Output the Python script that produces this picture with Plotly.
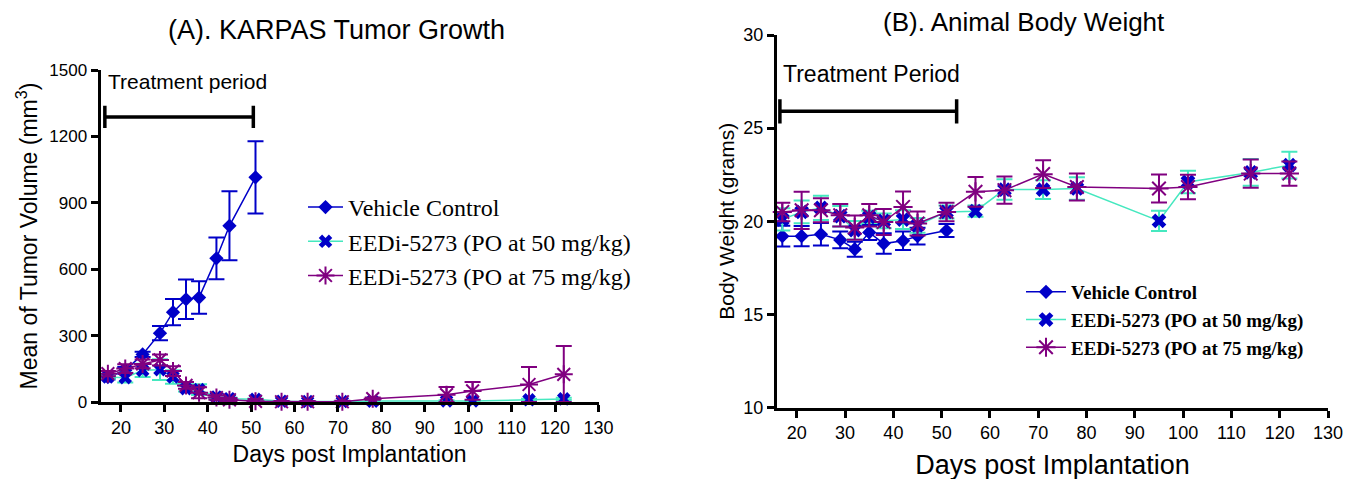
import plotly.graph_objects as go

# ---------------- data: (A) tumour volume ----------------
days_vc = [17, 21, 25, 29, 32, 35, 38, 42, 45, 51]
vol_vc = [113, 143, 215, 311, 406, 464, 472, 649, 796, 1015]
vol_vc_err = [10, 15, 12, 32, 59, 89, 73, 94, 156, 163]

days_trt = [17, 21, 25, 29, 32, 35, 38, 42, 45, 51, 57, 63, 71, 78, 95, 101, 114, 122]
vol_50 = [113, 110, 143, 146, 113, 60, 56, 23, 15, 12, 3, 2, 2, 4, 5, 5, 10, 14]
vol_50_err = [10, 22, 30, 47, 30, 12, 24, 8, 5, 4, 2, 2, 2, 2, 3, 3, 5, 5]
vol_75 = [128, 151, 172, 190, 140, 75, 42, 20, 10, 3, 1, 1, 1, 15, 33, 50, 79, 125]
vol_75_err = [12, 20, 20, 25, 22, 15, 25, 10, 8, 10, 3, 3, 5, 5, 35, 40, 79, 128]

# ---------------- data: (B) body weight ----------------
days_bw_vc = [17, 21, 25, 29, 32, 35, 38, 42, 45, 51]
bw_vc = [19.2, 19.2, 19.3, 19.0, 18.5, 19.4, 18.8, 18.95, 19.2, 19.5]
bw_vc_err = [0.56, 0.54, 0.6, 0.45, 0.4, 0.4, 0.55, 0.5, 0.45, 0.35]

days_bw = [17, 21, 25, 29, 32, 35, 38, 42, 45, 51, 57, 63, 71, 78, 95, 101, 114, 122]
bw_50 = [20.1, 20.5, 20.72, 20.27, 19.52, 20.23, 20.02, 20.09, 19.78, 20.5, 20.54, 21.7,
         21.7, 21.76, 20.02, 22.11, 22.62, 23.01]
bw_50_err = [0.6, 0.61, 0.65, 0.55, 0.5, 0.33, 0.4, 0.5, 0.4, 0.35, 0.3, 0.55,
             0.5, 0.6, 0.55, 0.6, 0.72, 0.72]
bw_75 = [20.5, 20.59, 20.59, 20.32, 19.66, 20.32, 19.96, 20.77, 19.88, 20.5, 21.58, 21.67,
         22.53, 21.84, 21.76, 21.84, 22.56, 22.56]
bw_75_err = [0.5, 1.0, 0.65, 0.6, 0.65, 0.6, 0.7, 0.83, 0.65, 0.5, 0.8, 0.73,
             0.75, 0.72, 0.75, 0.66, 0.76, 0.65]

names = ["Vehicle Control", "EEDi-5273 (PO at 50 mg/kg)", "EEDi-5273 (PO at 75 mg/kg)"]

# treatment period brackets
treatA = dict(x0=16.3, x1=50.5, y=1288, cap=50)
treatB = dict(x0=16.5, x1=53.1, y=25.9, cap=0.65)

BLUE = "#0000C8"
AQUA = "#45E8BF"
PURP = "#800080"

fig = go.Figure()

def lower(vals, errs):
    return [min(v, e) for v, e in zip(vals, errs)]

# ---- (A) ----
fig.add_trace(go.Scatter(
    x=days_vc, y=vol_vc, name=names[0], mode="lines+markers",
    line=dict(color=BLUE, width=1.5),
    marker=dict(symbol="diamond", size=11, color=BLUE),
    error_y=dict(type="data", array=vol_vc_err, color=BLUE, thickness=2, width=8),
    xaxis="x", yaxis="y", legend="legend", cliponaxis=False))
fig.add_trace(go.Scatter(
    x=days_trt, y=vol_50, name=names[1], mode="lines+markers",
    line=dict(color=AQUA, width=1.5),
    marker=dict(symbol="x", size=12, color=BLUE),
    error_y=dict(type="data", array=vol_50_err, arrayminus=lower(vol_50, vol_50_err),
                 color=AQUA, thickness=2, width=8),
    xaxis="x", yaxis="y", legend="legend", cliponaxis=False))
fig.add_trace(go.Scatter(
    x=days_trt, y=vol_75, name=names[2], mode="lines+markers",
    line=dict(color=PURP, width=1.5),
    marker=dict(symbol="asterisk-open", size=15, color=PURP, line=dict(color=PURP, width=2)),
    error_y=dict(type="data", array=vol_75_err, arrayminus=lower(vol_75, vol_75_err),
                 color=PURP, thickness=2, width=8),
    xaxis="x", yaxis="y", legend="legend", cliponaxis=False))

# ---- (B) ----
fig.add_trace(go.Scatter(
    x=days_bw_vc, y=bw_vc, name=names[0], mode="lines+markers",
    line=dict(color=BLUE, width=1.5),
    marker=dict(symbol="diamond", size=11, color=BLUE),
    error_y=dict(type="data", array=bw_vc_err, color=BLUE, thickness=2, width=8),
    xaxis="x2", yaxis="y2", legend="legend2", cliponaxis=False))
fig.add_trace(go.Scatter(
    x=days_bw, y=bw_50, name=names[1], mode="lines+markers",
    line=dict(color=AQUA, width=1.5),
    marker=dict(symbol="x", size=13, color=BLUE),
    error_y=dict(type="data", array=bw_50_err, color=AQUA, thickness=2, width=8),
    xaxis="x2", yaxis="y2", legend="legend2", cliponaxis=False))
fig.add_trace(go.Scatter(
    x=days_bw, y=bw_75, name=names[2], mode="lines+markers",
    line=dict(color=PURP, width=1.5),
    marker=dict(symbol="asterisk-open", size=16, color=PURP, line=dict(color=PURP, width=2)),
    error_y=dict(type="data", array=bw_75_err, color=PURP, thickness=2, width=8),
    xaxis="x2", yaxis="y2", legend="legend2", cliponaxis=False))

# treatment brackets
shapes = []
for t, xr, yr in [(treatA, "x", "y"), (treatB, "x2", "y2")]:
    ln = dict(color="black", width=3.5)
    shapes.append(dict(type="line", xref=xr, yref=yr, x0=t["x0"], x1=t["x1"], y0=t["y"], y1=t["y"], line=ln))
    for xx in (t["x0"], t["x1"]):
        shapes.append(dict(type="line", xref=xr, yref=yr, x0=xx, x1=xx,
                           y0=t["y"] - t["cap"], y1=t["y"] + t["cap"], line=ln))

W, H = 1353, 479
OFF = 8  # page body margin offset
def px(x):
    return (x - OFF) / W
def py(y):
    return 1 - (y - OFF) / H

axis_common = dict(showline=True, linecolor="black", linewidth=3, ticks="outside",
                   ticklen=7, tickwidth=3, tickcolor="black", showgrid=False, zeroline=False,
                   mirror=False, automargin=False)

fig.update_layout(
    width=W, height=H, margin=dict(l=0, r=0, t=0, b=0, autoexpand=False),
    paper_bgcolor="white", plot_bgcolor="white",
    font=dict(family="Liberation Sans, Arial, sans-serif", color="black"),
    shapes=shapes,
    xaxis=dict(domain=[px(100.5), px(598.5)], range=[15.3, 130], tickvals=list(range(20, 131, 10)),
               anchor="y", tickfont=dict(size=18),
               title=dict(text="Days post Implantation", font=dict(size=23), standoff=10),
               **axis_common),
    yaxis=dict(domain=[py(402), py(70)], range=[0, 1500], tickvals=list(range(0, 1501, 300)),
               anchor="x", tickfont=dict(size=17),
               title=dict(text="Mean of Tumor Volume (mm<sup>3</sup>)", font=dict(size=23), standoff=6),
               **axis_common),
    xaxis2=dict(domain=[px(777), px(1328)], range=[15.9, 130], tickvals=list(range(20, 131, 10)),
                anchor="y2", tickfont=dict(size=18),
                title=dict(text="Days post Implantation", font=dict(size=27), standoff=14),
                **axis_common),
    yaxis2=dict(domain=[py(407.5), py(35)], range=[10, 30], tickvals=list(range(10, 31, 5)),
                anchor="x2", tickfont=dict(size=18),
                title=dict(text="Body Weight (grams)", font=dict(size=21), standoff=4),
                **axis_common),
    legend=dict(x=px(303), y=py(185), xanchor="left", yanchor="top", bgcolor="rgba(0,0,0,0)",
                font=dict(family="Liberation Serif, Times New Roman, serif", size=24),
                tracegroupgap=0, itemwidth=35),
    legend2=dict(x=px(1021), y=py(273), xanchor="left", yanchor="top", bgcolor="rgba(0,0,0,0)",
                 font=dict(family="Liberation Serif, Times New Roman, serif", size=19, weight="bold"),
                 tracegroupgap=0, itemwidth=40),
    annotations=[
        dict(text="(A). KARPAS Tumor Growth", x=px(336), y=py(30), xref="paper", yref="paper",
             showarrow=False, font=dict(size=27), xanchor="center", yanchor="middle"),
        dict(text="(B). Animal Body Weight", x=px(1024), y=py(22), xref="paper", yref="paper",
             showarrow=False, font=dict(size=26), xanchor="center", yanchor="middle"),
        dict(text="Treatment period", x=px(188), y=py(81), xref="paper", yref="paper",
             showarrow=False, font=dict(size=21), xanchor="center", yanchor="middle"),
        dict(text="Treatment Period", x=px(871), y=py(74), xref="paper", yref="paper",
             showarrow=False, font=dict(size=23), xanchor="center", yanchor="middle"),
    ],
)

fig.write_html("out.html")
